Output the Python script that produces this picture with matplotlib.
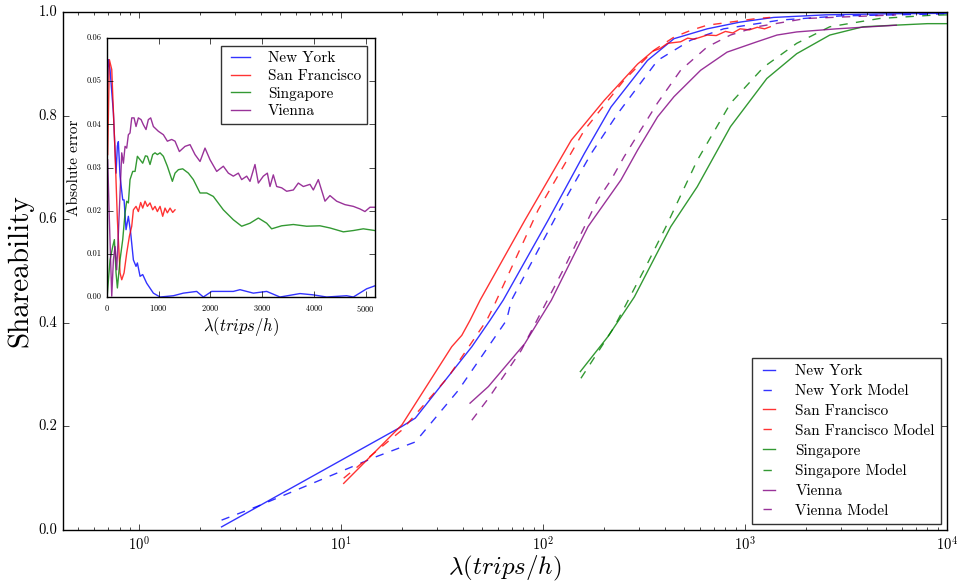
import matplotlib
matplotlib.use("Agg")
import matplotlib.pyplot as plt
from matplotlib.ticker import MultipleLocator, FormatStrFormatter

plt.style.use("classic")
plt.rcParams.update({
    "font.family": "serif",
    "font.serif": ["cmr10", "DejaVu Serif"],
    "mathtext.fontset": "cm",
    "axes.formatter.use_mathtext": True,
    "figure.facecolor": "white",
    "savefig.facecolor": "white",
    "axes.unicode_minus": False,
})

# ---------------- main chart data ----------------
ny_x = [2.56, 20.0, 23.3, 44.4, 54.6, 63.5, 105.8, 160, 217, 329, 445, 650, 945, 1384, 2500, 5000, 10000]
ny_y = [0.006, 0.2, 0.216, 0.354, 0.405, 0.444, 0.598, 0.727, 0.817, 0.907, 0.949, 0.968, 0.981, 0.99, 0.995, 0.997, 0.998]

nym_x = [2.56, 3.87, 14.8, 23.3, 38.1, 65.9, 69.8, 128, 173, 234, 369, 538, 784, 1500, 3000, 10000]
nym_y = [0.019, 0.046, 0.141, 0.17, 0.27, 0.405, 0.444, 0.637, 0.727, 0.804, 0.907, 0.946, 0.968, 0.985, 0.993, 0.997]

sf_x = [10.3, 20, 35.3, 39.6, 43.5, 48.8, 81.2, 138, 201, 294, 350, 380, 413, 480, 520, 560, 650, 720, 800, 870, 945, 1050, 1150, 1250, 1333]
sf_y = [0.09, 0.203, 0.354, 0.376, 0.405, 0.444, 0.598, 0.753, 0.83, 0.9, 0.925, 0.93, 0.94, 0.943, 0.95, 0.948, 0.956, 0.955, 0.963, 0.96, 0.968, 0.966, 0.971, 0.968, 0.972]

sfm_x = [10.3, 20, 34, 52.6, 56.8, 94.5, 160, 252, 355, 445, 538, 650, 847, 1146, 1333]
sfm_y = [0.1, 0.193, 0.296, 0.405, 0.431, 0.618, 0.772, 0.869, 0.927, 0.952, 0.965, 0.975, 0.981, 0.988, 0.99]

sg_x = [153, 209, 283, 429, 580, 847, 1282, 1803, 2630, 3844, 5500, 8000, 10200]
sg_y = [0.306, 0.373, 0.45, 0.586, 0.663, 0.779, 0.872, 0.92, 0.956, 0.972, 0.975, 0.978, 0.978]

sgm_x = [154, 225, 329, 405, 580, 847, 1236, 1803, 2630, 4646, 8190, 10000]
sgm_y = [0.293, 0.392, 0.515, 0.585, 0.714, 0.824, 0.894, 0.94, 0.972, 0.988, 0.994, 0.995]

vi_x = [43.5, 53.6, 81.2, 110, 167, 243, 294, 369, 445, 603, 815, 1146, 1440, 1803, 2838, 5610]
vi_y = [0.245, 0.277, 0.36, 0.444, 0.586, 0.676, 0.734, 0.798, 0.837, 0.888, 0.923, 0.943, 0.956, 0.962, 0.968, 0.975]

vim_x = [44.4, 53.6, 78, 128, 186, 217, 252, 369, 480, 650, 847, 1146, 2000, 5600]
vim_y = [0.212, 0.254, 0.347, 0.508, 0.637, 0.676, 0.721, 0.825, 0.888, 0.933, 0.956, 0.972, 0.988, 0.995]

# ---------------- inset data (absolute error) ----------------
eny_x = [3, 32, 64, 129, 180, 206, 225, 257, 309, 335, 373, 418, 463, 515, 566, 592, 644, 695, 772, 901, 1030, 1287, 1480, 1737, 1866, 2027, 2445, 2574, 2831, 3089, 3346, 3732, 3990, 4247, 4633, 4762, 5019, 5180]
eny_y = [0.045, 0.055, 0.0527, 0.0426, 0.0287, 0.035, 0.036, 0.028, 0.0225, 0.0225, 0.0156, 0.0187, 0.0148, 0.0086, 0.0071, 0.0079, 0.0048, 0.0052, 0.0032, 0.0009, 0.0, 0.0003, 0.0009, 0.0013, 0.0, 0.0013, 0.0013, 0.0017, 0.0009, 0.0013, 0.0, 0.0008, 0.0005, 0.0, 0.0003, 0.0, 0.0019, 0.0026]

esf_x = [19, 51, 97, 161, 206, 257, 290, 335, 386, 438, 483, 515, 566, 611, 656, 695, 740, 785, 836, 888, 933, 978, 1030, 1081, 1126, 1171, 1223, 1274, 1319]
esf_y = [0.033, 0.055, 0.0527, 0.0334, 0.0179, 0.0056, 0.004, 0.0056, 0.0102, 0.0141, 0.0164, 0.0202, 0.021, 0.0198, 0.0219, 0.0206, 0.0222, 0.021, 0.0218, 0.0202, 0.021, 0.0198, 0.021, 0.0187, 0.0206, 0.0195, 0.0206, 0.0196, 0.0202]

esg_x = [13, 64, 116, 148, 180, 206, 257, 309, 354, 386, 418, 450, 502, 547, 592, 644, 695, 747, 785, 836, 888, 933, 978, 1030, 1094, 1171, 1268, 1319, 1384, 1467, 1577, 1673, 1802, 1931, 2059, 2252, 2445, 2606, 2767, 2928, 3089, 3185, 3378, 3604, 3861, 4118, 4311, 4569, 4762, 4955, 5180]
esg_y = [0.0009, 0.0086, 0.0117, 0.0133, 0.0056, 0.0021, 0.0086, 0.0133, 0.0195, 0.0222, 0.0218, 0.0272, 0.0291, 0.0291, 0.0326, 0.0318, 0.031, 0.0327, 0.0326, 0.0307, 0.033, 0.0334, 0.033, 0.0334, 0.0326, 0.0303, 0.0268, 0.0287, 0.0295, 0.0297, 0.0287, 0.0272, 0.0241, 0.0241, 0.0233, 0.0202, 0.0179, 0.0164, 0.0171, 0.0183, 0.0171, 0.0158, 0.0165, 0.0168, 0.0164, 0.0165, 0.016, 0.0151, 0.0154, 0.0158, 0.0154]

evi_x = [19, 51, 97, 129, 161, 193, 225, 290, 322, 354, 386, 418, 450, 483, 528, 566, 611, 663, 708, 759, 804, 849, 901, 997, 1094, 1171, 1255, 1319, 1403, 1512, 1609, 1705, 1802, 1898, 1995, 2124, 2252, 2349, 2445, 2542, 2606, 2703, 2767, 2863, 2928, 3024, 3102, 3153, 3217, 3282, 3378, 3475, 3604, 3700, 3797, 3925, 3990, 4086, 4215, 4311, 4440, 4601, 4762, 4891, 4987, 5084, 5180]
evi_y = [0.0318, 0.0179, 0.0002, 0.0086, 0.0117, 0.0063, 0.0148, 0.0334, 0.031, 0.0349, 0.0345, 0.0376, 0.038, 0.0415, 0.0415, 0.0395, 0.0415, 0.0411, 0.0399, 0.0388, 0.0411, 0.0415, 0.0395, 0.0384, 0.0376, 0.0361, 0.0365, 0.0361, 0.0337, 0.0349, 0.0353, 0.033, 0.0314, 0.0345, 0.0318, 0.0291, 0.0303, 0.0287, 0.028, 0.0287, 0.0272, 0.028, 0.0268, 0.0307, 0.0264, 0.028, 0.0287, 0.0256, 0.0283, 0.0256, 0.0253, 0.0245, 0.0248, 0.0264, 0.0256, 0.0261, 0.0248, 0.0272, 0.0222, 0.0235, 0.0222, 0.0214, 0.021, 0.0204, 0.0198, 0.0208, 0.0208]

C_NY, C_SF, C_SG, C_VI = "blue", "red", "green", "purple"
A = 0.8

fig = plt.figure(figsize=(9.58, 5.84), dpi=100)
ax = fig.add_axes([0.0658, 0.0925, 0.9227, 0.8865])

ax.plot(ny_x, ny_y, "-", color=C_NY, alpha=A, label="New York")
ax.plot(nym_x, nym_y, "--", color=C_NY, alpha=A, label="New York Model")
ax.plot(sf_x, sf_y, "-", color=C_SF, alpha=A, label="San Francisco")
ax.plot(sfm_x, sfm_y, "--", color=C_SF, alpha=A, label="San Francisco Model")
ax.plot(sg_x, sg_y, "-", color=C_SG, alpha=A, label="Singapore")
ax.plot(sgm_x, sgm_y, "--", color=C_SG, alpha=A, label="Singapore Model")
ax.plot(vi_x, vi_y, "-", color=C_VI, alpha=A, label="Vienna")
ax.plot(vim_x, vim_y, "--", color=C_VI, alpha=A, label="Vienna Model")

ax.set_xscale("log")
ax.set_xlim(0.42, 10000)
ax.set_ylim(0, 1.0)
ax.yaxis.set_major_locator(MultipleLocator(0.2))
ax.yaxis.set_major_formatter(FormatStrFormatter("%.1f"))
ax.tick_params(labelsize=10.5)
ax.set_xlabel(r"$\lambda(trips/h)$", fontsize=18, labelpad=0)
ax.set_ylabel("Shareability", fontsize=21, labelpad=4)
leg = ax.legend(loc="lower right", fontsize=11, handlelength=1.4, labelspacing=0.4,
                handletextpad=1.0, numpoints=2, frameon=True, borderaxespad=0.4)
leg.get_frame().set_edgecolor("#333333")

# ---------------- inset ----------------
ins = fig.add_axes([0.1114, 0.4914, 0.2800, 0.4435])
ins.plot(eny_x, eny_y, "-", color=C_NY, alpha=A, label="New York")
ins.plot(esf_x, esf_y, "-", color=C_SF, alpha=A, label="San Francisco")
ins.plot(esg_x, esg_y, "-", color=C_SG, alpha=A, label="Singapore")
ins.plot(evi_x, evi_y, "-", color=C_VI, alpha=A, label="Vienna")
ins.set_xlim(0, 5180)
ins.set_ylim(0, 0.06)
ins.xaxis.set_major_locator(MultipleLocator(1000))
ins.yaxis.set_major_locator(MultipleLocator(0.01))
ins.yaxis.set_major_formatter(FormatStrFormatter("%.2f"))
ins.tick_params(labelsize=6)
ins.set_xlabel(r"$\lambda(trips/h)$", fontsize=12, labelpad=1)
ins.set_ylabel("Absolute error", fontsize=11, labelpad=4)
leg2 = ins.legend(loc="upper right", fontsize=11, handlelength=1.8, labelspacing=0.25,
                  handletextpad=0.9, numpoints=2, frameon=True, borderaxespad=0.5)
leg2.get_frame().set_edgecolor("#333333")

fig.savefig("out.png", dpi=100)
